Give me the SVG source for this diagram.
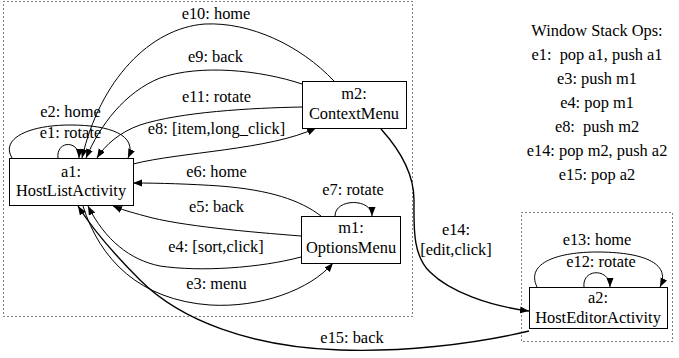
<svg xmlns="http://www.w3.org/2000/svg" width="679" height="358" viewBox="0 0 679 358">
<style>
text{font-family:"Liberation Serif",serif !important;font-size:16.4px;fill:#000;text-anchor:middle}
.cl{fill:none;stroke:#000;stroke-width:1;stroke-dasharray:1,3}
.nd{fill:#fff;stroke:#000;stroke-width:1}
.e{fill:none;stroke:#000;stroke-width:1}
.b{stroke-width:1.4}
</style>
<defs>
<marker id="ah" markerWidth="10" markerHeight="8" refX="9" refY="3.5" orient="auto" markerUnits="userSpaceOnUse">
<path d="M0,0 L9,3.5 L0,7 z" fill="#000"/>
</marker>
</defs>
<rect width="679" height="358" fill="#fff"/>
<rect class="cl" x="3.5" y="1.5" width="409" height="315"/>
<rect class="cl" x="521.5" y="212.5" width="151" height="129"/>

<g id="edges">
<path class="e" marker-end="url(#ah)" d="M334,81 C300,45 250,22 205,24 C150,28 100,80 82,158"/>
<path class="e" marker-end="url(#ah)" d="M302,84 C260,70 200,64 160,78 C125,92 100,125 86,158"/>
<path class="e" marker-end="url(#ah)" d="M302,107 C250,108 180,112 140,125 C120,132 105,145 97,158"/>
<path class="e" marker-end="url(#ah)" d="M133,164 C180,152 270,150 316,128"/>
<path class="e" marker-end="url(#ah)" d="M12,158 C0,138 30,125 70,125 C110,125 138,135 128,158"/>
<path class="e" marker-end="url(#ah)" d="M58,158 C56,140 80,140 79,158"/>
<path class="e" marker-end="url(#ah)" d="M321,216 C300,200 270,190 220,186 C190,184 160,183 133,183"/>
<path class="e" marker-end="url(#ah)" d="M301,236 C250,232 180,226 145,216 C130,212 120,209 113,206"/>
<path class="e" marker-end="url(#ah)" d="M301,257 C260,268 200,272 160,266 C130,260 105,240 88,206"/>
<path class="e" marker-end="url(#ah)" d="M83,206 C100,260 140,300 210,305 C260,308 310,290 333,263"/>
<path class="e" marker-end="url(#ah)" d="M335,216 C335,198 372,198 372,216"/>
<path class="e b" marker-end="url(#ah)" d="M381,129 C400,150 414,175 414,200 C414,225 412,255 430,272 C450,292 490,306 529,311"/>
<path class="e b" marker-end="url(#ah)" d="M529,331 C470,345 400,352 340,350 C250,347 180,320 140,280 C110,250 90,225 78,206"/>
<path class="e" marker-end="url(#ah)" d="M584,287 C582,268 610,268 610,287"/>
<path class="e" marker-end="url(#ah)" d="M537,287 C525,262 560,252 597,252 C640,252 672,262 660,287"/>
</g>

<g id="labels">
<text style="font-family:'Liberation Serif',serif" x="216" y="19">e10: home</text>
<text style="font-family:'Liberation Serif',serif" x="215.5" y="62">e9: back</text>
<text style="font-family:'Liberation Serif',serif" x="216.5" y="102">e11: rotate</text>
<text style="font-family:'Liberation Serif',serif" x="216.5" y="134">e8: [item,long_click]</text>
<text style="font-family:'Liberation Serif',serif" x="70.5" y="117">e2: home</text>
<text style="font-family:'Liberation Serif',serif" x="70.5" y="138">e1: rotate</text>
<text style="font-family:'Liberation Serif',serif" x="216.5" y="177">e6: home</text>
<text style="font-family:'Liberation Serif',serif" x="216.5" y="212">e5: back</text>
<text style="font-family:'Liberation Serif',serif" x="216" y="252">e4: [sort,click]</text>
<text style="font-family:'Liberation Serif',serif" x="216.5" y="289">e3: menu</text>
<text style="font-family:'Liberation Serif',serif" x="353" y="195">e7: rotate</text>
<text style="font-family:'Liberation Serif',serif" x="456" y="235">e14:</text>
<text style="font-family:'Liberation Serif',serif" x="456" y="255">[edit,click]</text>
<text style="font-family:'Liberation Serif',serif" x="597" y="245">e13: home</text>
<text style="font-family:'Liberation Serif',serif" x="601" y="267">e12: rotate</text>
<text style="font-family:'Liberation Serif',serif" x="352" y="343">e15: back</text>
</g>

<g id="a1">
<rect class="nd" x="9.5" y="158.5" width="124" height="47"/>
<text style="font-family:'Liberation Serif',serif" x="71" y="177">a1:</text>
<text style="font-family:'Liberation Serif',serif" x="71" y="196">HostListActivity</text>
</g>
<g id="m2">
<rect class="nd" x="302.5" y="81.5" width="104" height="47"/>
<text style="font-family:'Liberation Serif',serif" x="354" y="99">m2:</text>
<text style="font-family:'Liberation Serif',serif" x="354" y="119">ContextMenu</text>
</g>
<g id="m1">
<rect class="nd" x="301.5" y="216.5" width="99" height="47"/>
<text style="font-family:'Liberation Serif',serif" x="351" y="233">m1:</text>
<text style="font-family:'Liberation Serif',serif" x="351" y="253">OptionsMenu</text>
</g>
<g id="a2">
<rect class="nd" x="529.5" y="287.5" width="138" height="41"/>
<text style="font-family:'Liberation Serif',serif" x="598" y="303">a2:</text>
<text style="font-family:'Liberation Serif',serif" x="598" y="323">HostEditorActivity</text>
</g>

<g id="stackops">
<text style="font-family:'Liberation Serif',serif" x="597" y="36">Window Stack Ops:</text>
<text style="font-family:'Liberation Serif',serif" x="597" y="60" xml:space="preserve">e1:  pop a1, push a1</text>
<text style="font-family:'Liberation Serif',serif" x="597" y="84">e3: push m1</text>
<text style="font-family:'Liberation Serif',serif" x="597" y="108">e4: pop m1</text>
<text style="font-family:'Liberation Serif',serif" x="597" y="132" xml:space="preserve">e8:  push m2</text>
<text style="font-family:'Liberation Serif',serif" x="597" y="156">e14: pop m2, push a2</text>
<text style="font-family:'Liberation Serif',serif" x="597" y="180">e15: pop a2</text>
</g>
</svg>
